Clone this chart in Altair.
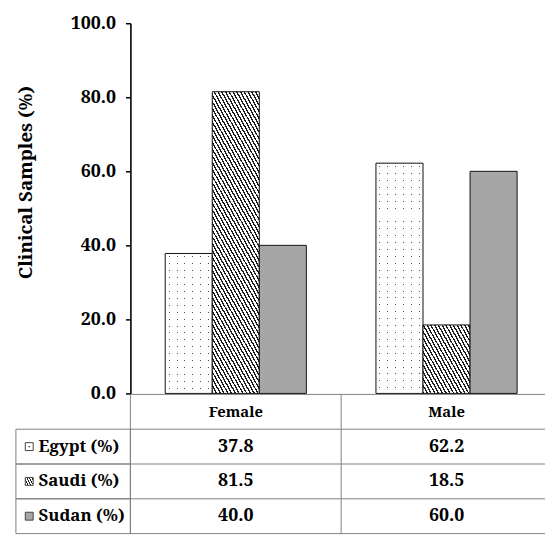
import altair as alt
import pandas as pd

# ---------------- data ----------------
genders = ["Female", "Male"]
countries = ["Egypt", "Saudi", "Sudan"]
row_labels = ["Egypt (%)", "Saudi (%)", "Sudan (%)"]
egypt = [37.8, 62.2]
saudi = [81.5, 18.5]
sudan = [40.0, 60.0]
y_ticks = [0, 20, 40, 60, 80, 100]
y_title = "Clinical Samples (%)"

series = dict(zip(countries, [egypt, saudi, sudan]))
df = pd.DataFrame([
    {"Gender": g, "Country": c, "Row": lab, "Value": v}
    for c, lab in zip(countries, row_labels)
    for g, v in zip(genders, series[c])
])
df["Text"] = df["Value"].map(lambda v: f"{v:.1f}")
hdr = pd.DataFrame({"Gender": genders, "Row": ["hdr"] * len(genders), "Text": genders})
table = pd.concat([hdr, df[["Gender", "Row", "Text"]]], ignore_index=True)
label_df = pd.DataFrame({"Row": row_labels, "Country": countries})
rows_df = pd.DataFrame({"Row": ["hdr"] + row_labels})
col_df = pd.DataFrame({"Gender": genders})

# ---------------- layout / style ----------------
FONT = "Noto Serif, DejaVu Serif"
LINE = "#808080"
INK = "#111111"
PLOT_W = 420
TOTAL_H = 517
BAR_H = 375
TABLE_TOP = 376
STEP = 213.5            # column width of the category bands
BAND = 143.0            # width of one group of three bars
FIRST = 35.25           # offset of first bar group from the axis
PAD_IN = 1 - BAND / STEP
PAD_OUT = (PLOT_W / STEP - (len(genders) - PAD_IN)) / 2
ALIGN = FIRST / (PLOT_W - STEP * (len(genders) - PAD_IN))
BAR_W = BAND / len(countries)
CLEAR = "rgba(255,255,255,0)"


def band_stops(total, period, start, length, on, off):
    stops = [{"offset": 0.0, "color": off}]
    p = start
    while p < total:
        a = round(max(p, 0.0) / total, 5)
        b = round(min(p + length, total) / total, 5)
        stops += [{"offset": a, "color": off}, {"offset": a, "color": on},
                  {"offset": b, "color": on}, {"offset": b, "color": off}]
        p += period
    stops.append({"offset": 1.0, "color": off})
    return stops


def hatch(w, h, slope=1.8, period=3.8, frac=0.4, ink="#1e1e1e"):
    hk = h / slope
    L = w + hk
    c = L / (w * w + hk * hk)
    return {"gradient": "linear", "x1": 0, "y1": 1, "x2": c * w, "y2": 1 - c * hk,
            "stops": band_stops(L, period, 0.0, frac * period, ink, "white")}


def vstripes(w, period=8.0, gap=1.0):
    return {"gradient": "linear", "x1": 0, "y1": 0, "x2": 1, "y2": 0,
            "stops": band_stops(w, period, period / 2 - gap / 2, gap, CLEAR, "white")}


def hstripes(h, period=7.0, gap=1.0):
    return {"gradient": "linear", "x1": 0, "y1": 0, "x2": 0, "y2": 1,
            "stops": band_stops(h, period, period / 2 - gap / 2, gap, CLEAR, "white")}


def px(v):
    return v / 100.0 * BAR_H

# ---------------- bars ----------------
x_scale = alt.Scale(type="band", domain=genders, paddingInner=PAD_IN,
                    paddingOuter=PAD_OUT, align=ALIGN)
x_top = alt.X("Gender:N", axis=None, scale=x_scale)
xo = alt.XOffset("Country:N", scale=alt.Scale(domain=countries, paddingInner=0, paddingOuter=0))
y_top = alt.Y("Value:Q", stack=None,
              scale=alt.Scale(domain=[0, 100], range=[BAR_H, 0], nice=False),
              axis=alt.Axis(values=y_ticks, format=".1f", title=y_title, grid=False,
                            domainColor="black", domainWidth=1.6,
                            tickColor="black", tickWidth=1.5, tickSize=5,
                            labelFont=FONT, labelFontWeight="bold", labelFontSize=18,
                            labelColor="black", labelPadding=10,
                            titleFont=FONT, titleFontWeight="bold", titleFontSize=19,
                            titleColor="black", titleAngle=270, titleX=-106, titleY=161,
                            titleAlign="center", titleBaseline="middle"))

base = alt.Chart(df).encode(x=x_top, xOffset=xo, y=y_top)
is_eg = alt.datum.Country == "Egypt"
is_sa = alt.datum.Country == "Saudi"
is_su = alt.datum.Country == "Sudan"
is_f = alt.datum.Gender == "Female"
is_m = alt.datum.Gender == "Male"

bars = alt.layer(
    base.transform_filter(is_eg).mark_bar(fill="#505050", strokeWidth=0),
    base.transform_filter(is_eg).mark_bar(fill=vstripes(BAR_W), strokeWidth=0),
    base.transform_filter(is_eg & is_f).mark_bar(fill=hstripes(px(egypt[0])), strokeWidth=0),
    base.transform_filter(is_eg & is_m).mark_bar(fill=hstripes(px(egypt[1])), strokeWidth=0),
    base.transform_filter(is_eg).mark_bar(fill="transparent", stroke=INK, strokeWidth=1),
    base.transform_filter(is_sa & is_f).mark_bar(fill=hatch(BAR_W, px(saudi[0])), stroke=INK, strokeWidth=1),
    base.transform_filter(is_sa & is_m).mark_bar(fill=hatch(BAR_W, px(saudi[1])), stroke=INK, strokeWidth=1),
    base.transform_filter(is_su).mark_bar(fill="#a6a6a6", stroke=INK, strokeWidth=1),
)

# ---------------- data table ----------------
x_bot = alt.X("Gender:N", axis=None, scale=x_scale)
y_scale_bot = alt.Scale(type="band", domain=["hdr"] + row_labels,
                        range=[TABLE_TOP, TOTAL_H], paddingInner=0, paddingOuter=0)
y_bot = alt.Y("Row:N", axis=None, scale=y_scale_bot)

h_lines = alt.Chart(rows_df).mark_rule(color=LINE, strokeWidth=1).encode(
    y=alt.Y("Row:N", axis=None, scale=y_scale_bot, bandPosition=0))
h_last = alt.Chart(rows_df).transform_filter(alt.datum.Row == row_labels[-1]).mark_rule(
    color=LINE, strokeWidth=1).encode(
    y=alt.Y("Row:N", axis=None, scale=y_scale_bot, bandPosition=1))

# column borders: band starts of full-width table columns
col_scale = alt.Scale(type="band", domain=genders, range=[0, STEP * len(genders)],
                      paddingInner=0, paddingOuter=0)
v_lines = alt.Chart(col_df).mark_rule(color=LINE, strokeWidth=1).encode(
    x=alt.X("Gender:N", axis=None, scale=col_scale, bandPosition=0),
    y=alt.value(TABLE_TOP), y2=alt.value(TOTAL_H))

tbl = alt.Chart(table)
head_txt = tbl.transform_filter(alt.datum.Row == "hdr").mark_text(
    font=FONT, fontWeight="bold", fontSize=15, color="black", baseline="middle"
).encode(x=x_bot, y=y_bot, text="Text:N")
val_txt = tbl.transform_filter(alt.datum.Row != "hdr").mark_text(
    font=FONT, fontWeight="bold", fontSize=18, color="black", baseline="middle"
).encode(x=x_bot, y=y_bot, text="Text:N")

lab = alt.Chart(label_df)
lab_cells = lab.mark_rect(fill="transparent", stroke=LINE, strokeWidth=1).encode(
    x=alt.value(-116), x2=alt.value(0), y=y_bot)
lab_txt = lab.mark_text(font=FONT, fontWeight="bold", fontSize=17, color="black",
                        align="left", baseline="middle").encode(
    x=alt.value(-93), y=y_bot, text="Row:N")
sw_x = alt.value(-102.5)
sw_eg = lab.transform_filter(is_eg).mark_square(size=64, fill="white", stroke="#444444",
                                                  strokeWidth=1, opacity=1).encode(x=sw_x, y=y_bot)
sw_eg_dot = lab.transform_filter(is_eg).mark_square(size=2, fill="#333333", strokeWidth=0,
                                                      opacity=1).encode(x=sw_x, y=y_bot)
sw_sa = lab.transform_filter(is_sa).mark_square(size=64, fill=hatch(8, 8, period=2.6),
                                                  stroke="#444444", strokeWidth=1,
                                                  opacity=1).encode(x=sw_x, y=y_bot)
sw_su = lab.transform_filter(is_su).mark_square(size=64, fill="#a6a6a6", stroke="#444444",
                                                  strokeWidth=1, opacity=1).encode(x=sw_x, y=y_bot)

tab = alt.layer(h_lines, h_last, lab_cells, head_txt, val_txt, lab_txt,
                sw_eg, sw_eg_dot, sw_sa, sw_su)

chart = alt.layer(bars, tab, v_lines).resolve_scale(
    x="independent", y="independent"
).properties(
    width=PLOT_W, height=TOTAL_H,
    autosize=alt.AutoSizeParams(type="none"),
    padding={"left": 124, "top": 12, "right": 0, "bottom": 0},
    background="white",
).configure_view(stroke="transparent", strokeWidth=0)

chart.save("out.html", embed_options={"renderer": "svg", "actions": False})
